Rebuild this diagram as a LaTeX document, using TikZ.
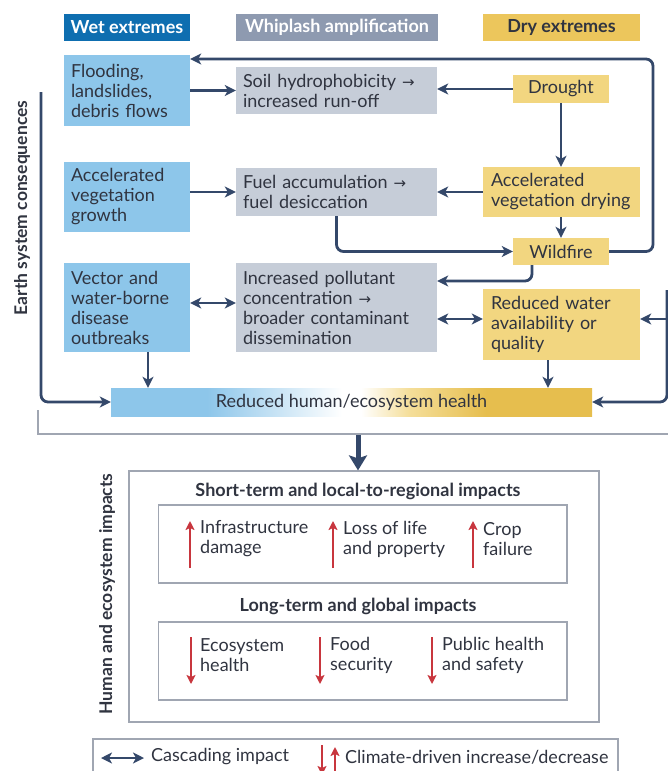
\documentclass[tikz,border=0pt]{standalone}
\usepackage{fontspec}
\setmainfont{Lato}
\newfontfamily\arrfont{DejaVu Sans}
\usetikzlibrary{arrows.meta}
\definecolor{navy}{RGB}{52,72,106}
\definecolor{wetdark}{RGB}{14,110,176}
\definecolor{wetbox}{RGB}{141,198,234}
\definecolor{whipdark}{RGB}{142,154,176}
\definecolor{whipbox}{RGB}{198,205,216}
\definecolor{drydark}{RGB}{236,198,92}
\definecolor{drybox}{RGB}{242,214,128}
\definecolor{txt}{RGB}{48,52,64}
\definecolor{redarr}{RGB}{200,54,62}
\definecolor{framec}{RGB}{160,166,178}
\definecolor{baryellow}{RGB}{230,190,78}
\pgfdeclarehorizontalshading{barshade}{100bp}{color(0bp)=(wetbox); color(35bp)=(wetbox); color(49bp)=(white); color(51bp)=(white); color(56bp)=(drybox!80); color(64bp)=(baryellow); color(100bp)=(baryellow)}
\newcommand\bodyfs{\fontsize{18}{20}\selectfont}
\newcommand\headfs{\bfseries\fontsize{18}{20}\selectfont}
\newcommand\rarr{{\arrfont\fontsize{15}{20}\selectfont →}}
\begin{document}
\begin{tikzpicture}[x=1pt,y=-1pt,
  hdr/.style={rectangle, minimum height=27pt, inner sep=0pt, font=\headfs},
  box/.style={rectangle, inner xsep=7pt, inner ysep=0pt, align=left, text=txt, font=\bodyfs},
  drybx/.style={box, fill=drybox, inner xsep=8pt, text width=141pt},
  arr/.style={draw=navy, line width=2.8pt, -{Stealth[length=11pt,width=11pt,inset=3pt]}},
  dbl/.style={draw=navy, line width=2.8pt, {Stealth[length=11pt,width=11pt,inset=3pt]}-{Stealth[length=11pt,width=11pt,inset=3pt]}},
  bigarr/.style={draw=navy, line width=5pt, -{Stealth[length=15pt,width=18pt,inset=3pt]}},
  redarrow/.style={draw=redarr, line width=2.5pt, -{Stealth[length=9pt,width=9pt,inset=2pt]}},
  framebox/.style={rectangle, draw=framec, line width=1.2pt, inner sep=0pt},
  item/.style={anchor=west, align=left, inner sep=0pt, text=txt, font=\bodyfs},
  title/.style={inner sep=0pt, text=txt, font=\headfs},
  side/.style={rotate=90, inner sep=0pt, text=txt, font=\bfseries\fontsize{17.5}{20}\selectfont}]
\useasboundingbox (0,0) rectangle (668,771);
\clip (0,0) rectangle (668,771);
% headers
\node[hdr, fill=wetdark, text=white, minimum width=126pt] (hwet) at (127,27.5) {Wet extremes};
\node[hdr, fill=whipdark, text=white, minimum width=202pt] (hwhip) at (337,27.5) {Whiplash amplification};
\node[hdr, fill=drydark, text=txt, minimum width=157pt] (hdry) at (561.5,27.5) {Dry extremes};
% side labels
\node[side] (lesc) at (22,208) {Earth system consequences};
\node[side] (lhei) at (107,594) {Human and ecosystem impacts};
% row 1
\node[box, fill=wetbox, text width=112pt, minimum height=71pt] (flood) at (127,90.5) {Flooding,\\landslides,\\debris flows};
\node[box, fill=whipbox, text width=187pt, minimum height=47pt] (soil) at (336.5,90.5) {Soil hydrophobicity \rarr\\increased run-off};
\node[box, fill=drybox, minimum width=96pt, minimum height=28pt, align=center] (drought) at (561,89) {Drought};
% row 2
\node[box, fill=wetbox, text width=112pt, minimum height=70pt] (growth) at (127,197) {Accelerated\\vegetation\\growth};
\node[box, fill=whipbox, text width=187pt, minimum height=48pt] (fuel) at (336.5,192) {Fuel accumulation \rarr\\fuel desiccation};
\node[drybx, minimum height=50pt] (drying) at (561.5,192) {Accelerated\\vegetation drying};
\node[box, fill=drybox, minimum width=96pt, minimum height=27pt, align=center] (fire) at (561,251.5) {Wildfire};
% row 3
\node[box, fill=wetbox, text width=112pt, minimum height=89pt] (vector) at (127,307.5) {Vector and\\water-borne\\disease\\outbreaks};
\node[box, fill=whipbox, text width=187pt, minimum height=89pt] (poll) at (336.5,307.5) {Increased pollutant\\concentration \rarr\\broader contaminant\\dissemination};
\node[drybx, minimum height=71pt] (water) at (561.5,324.5) {Reduced water\\availability or\\quality};
% bar
\node[rectangle, shading=barshade, minimum width=481pt, minimum height=28pt, inner sep=0pt, text=txt, font=\bodyfs] (bar) at (351.5,402) {Reduced human/ecosystem health};
% connectors
\draw[arr] (flood) -- (soil);
\draw[arr] (drought.west) -- (drought.west -| soil.east);
\draw[arr] (drought.south) -- (drought.south |- drying.north);
\draw[arr] (fuel.west -| growth.east) -- (fuel.west);
\draw[arr] (drying) -- (fuel);
\draw[arr] (drying.south -| fire.north) -- (fire.north);
\draw[arr, rounded corners=7pt] (fuel.south) |- (fire.west);
\coordinate (loopTR) at (653,59);
\draw[arr, rounded corners=7pt] (fire.east) -| (loopTR) -- (loopTR -| flood.east);
\coordinate (fireOut) at ([xshift=-29pt]fire.south);
\coordinate (pollIn) at ([yshift=26.5pt]poll.east);
\draw[arr, rounded corners=7pt] (fireOut) |- (pollIn);
\coordinate (vpL) at ([yshift=4.5pt]vector.east);
\draw[dbl] (vpL) -- (vpL -| poll.west);
\coordinate (pwL) at ([yshift=-11.5pt]poll.east);
\draw[dbl] (pwL) -- (pwL -| water.west);
\coordinate (rin) at (667,290);
\coordinate (wIn) at (water.east |- pwL);
\draw[arr] (rin |- wIn) -- (wIn);
\draw[arr, rounded corners=7pt] (rin) |- (bar.east);
\coordinate (lTop) at (41,92);
\draw[arr, rounded corners=7pt] (lTop) |- (bar.west);
\coordinate (vB) at ([xshift=21pt]vector.south);
\draw[arr] (vB) -- (vB |- bar.north);
\coordinate (wB) at ([xshift=-13.5pt]water.south);
\draw[arr] (wB) -- (wB |- bar.north);
% bracket line
\coordinate (brA) at (38,410);
\coordinate (brB) at (680,434);
\draw[draw=framec, line width=1.2pt] (brA) |- (brB);
% impacts
\node[framebox, minimum width=470pt, minimum height=251pt] (big) at (364,596.5) {};
\coordinate (bigTop) at (358,435);
\draw[bigarr] (bigTop) -- (bigTop |- big.north);
\node[title] (tshort) at (358,491) {Short-term and local-to-regional impacts};
\node[framebox, minimum width=408.5pt, minimum height=78pt] (ib1) at (362.75,544) {};
\node[item] (i1) at (200,539) {Infrastructure\\damage};
\node[item] (i2) at (343,539) {Loss of life\\and property};
\node[item] (i3) at (483,539) {Crop\\failure};
\coordinate (u1b) at (190,568); \coordinate (u1t) at (190,521);
\coordinate (u2b) at (333,568); \coordinate (u2t) at (333,521);
\coordinate (u3b) at (473,568); \coordinate (u3t) at (473,521);
\draw[redarrow] (u1b) -- (u1t);
\draw[redarrow] (u2b) -- (u2t);
\draw[redarrow] (u3b) -- (u3t);
\node[title] (tlong) at (358,606) {Long-term and global impacts};
\node[framebox, minimum width=408.5pt, minimum height=78pt] (ib2) at (362.75,661) {};
\node[item] (j1) at (200,655) {Ecosystem\\health};
\node[item] (j2) at (330,655) {Food\\security};
\node[item] (j3) at (442,655) {Public health\\and safety};
\coordinate (d1t) at (191,637); \coordinate (d1b) at (191,684);
\coordinate (d2t) at (320,637); \coordinate (d2b) at (320,684);
\coordinate (d3t) at (432,637); \coordinate (d3b) at (432,684);
\draw[redarrow] (d1t) -- (d1b);
\draw[redarrow] (d2t) -- (d2b);
\draw[redarrow] (d3t) -- (d3b);
% legend
\node[framebox, minimum width=525pt, minimum height=60pt] (leg) at (355.5,769) {};
\coordinate (lgA) at (101,758); \coordinate (lgB) at (144,758);
\draw[dbl] (lgA) -- (lgB);
\node[item] (lg1) at (151,757) {Cascading impact};
\coordinate (lrDt) at (322,745); \coordinate (lrDb) at (322,775);
\coordinate (lrUb) at (335,780); \coordinate (lrUt) at (335,747);
\draw[redarrow] (lrDt) -- (lrDb);
\draw[redarrow] (lrUb) -- (lrUt);
\node[item] (lg2) at (345,757) {Climate-driven increase/decrease};
\end{tikzpicture}
\end{document}
